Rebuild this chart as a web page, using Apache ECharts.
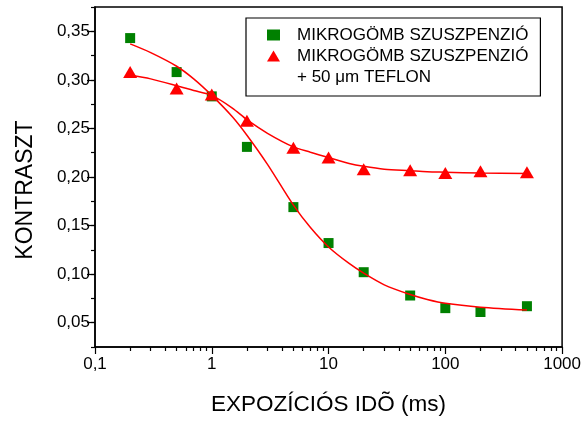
<!DOCTYPE html>
<html>
<head>
<meta charset="utf-8">
<script src="https://cdn.jsdelivr.net/npm/echarts@6/dist/echarts.min.js"></script>
<style>html,body{margin:0;padding:0;background:#fff}#c{width:584px;height:421px}</style>
</head>
<body>
<div id="c"></div>
<script>
// ---- data ----
const timesMs = [0.2, 0.5, 1, 2, 5, 10, 20, 50, 100, 200, 500];
const contrastSuspension = [0.343, 0.308, 0.283, 0.231, 0.169, 0.132, 0.102, 0.078, 0.065, 0.061, 0.067];
const contrastTeflon = [0.308, 0.291, 0.285, 0.258, 0.230, 0.220, 0.208, 0.207, 0.204, 0.206, 0.205];
// fitted curves
const fitTimes = [0.2, 0.3, 0.5, 0.7, 1, 1.5, 2, 3, 5, 7, 10, 15, 20, 30, 50, 70, 100, 200, 500];
const fitSuspension = [0.337, 0.328, 0.314, 0.301, 0.284, 0.262, 0.243, 0.213, 0.171, 0.148, 0.128, 0.111, 0.101, 0.089, 0.079, 0.074, 0.070, 0.066, 0.063];
const fitTeflon = [0.305, 0.301, 0.294, 0.289, 0.284, 0.271, 0.259, 0.245, 0.231, 0.2255, 0.220, 0.214, 0.211, 0.208, 0.2065, 0.2055, 0.205, 0.204, 0.2035];
// tick labels
const xTickLabels = [0.1, 1, 10, 100, 1000];
const xMinorTicks = [0.2,0.3,0.4,0.5,0.6,0.7,0.8,0.9,2,3,4,5,6,7,8,9,20,30,40,50,60,70,80,90,200,300,400,500,600,700,800,900];
const yTickLabels = [0.05, 0.10, 0.15, 0.20, 0.25, 0.30, 0.35];
const seriesNames = ['MIKROGÖMB SZUSZPENZIÓ', 'MIKROGÖMB SZUSZPENZIÓ', '+ 50 μm TEFLON'];

const FONT = 'Liberation Sans, Arial, sans-serif';
const pairs = (xs, ys) => xs.map((x, i) => [x, ys[i]]);

const chart = echarts.init(document.getElementById('c'), null, {renderer: 'canvas'});
chart.setOption({
  animation: false,
  backgroundColor: '#fff',
  grid: {left: 95, right: 21, top: 7, bottom: 68, show: true, borderColor: '#000', borderWidth: 1.5, containLabel: false},
  legend: {
    orient: 'vertical', left: 246, top: 18,
    padding: [7, 12, 9, 21],
    borderColor: '#000', borderWidth: 1.2, borderRadius: 0,
    itemWidth: 13, itemHeight: 11, itemGap: 1,
    textStyle: {fontFamily: FONT, fontSize: 17, color: '#000', lineHeight: 20, padding: [0, 0, 0, 12]},
    selectedMode: false,
    data: [
      {name: 'sq', icon: 'rect', itemStyle: {color: '#008000', opacity: 1}},
      {name: 'tri', icon: 'triangle', itemStyle: {color: '#ff0000', opacity: 1}},
      {name: 'extra', icon: 'rect', itemStyle: {opacity: 0}}
    ],
    formatter: n => n === 'sq' ? seriesNames[0] : (n === 'tri' ? seriesNames[1] : seriesNames[2])
  },
  xAxis: [{
    type: 'log', logBase: 10, min: 0.1, max: 1000,
    axisLine: {show: true, lineStyle: {color: '#000', width: 1.5}},
    axisTick: {show: true, inside: false, length: 7, lineStyle: {color: '#000', width: 1.2}, customValues: xTickLabels},
    axisLabel: {customValues: xTickLabels, color: '#000', fontFamily: FONT, fontSize: 17, margin: 9,
      formatter: v => String(v).replace('.', ',')},
    splitLine: {show: false},
    name: 'EXPOZÍCIÓS IDÕ (ms)', nameLocation: 'middle', nameGap: 46,
    nameTextStyle: {fontFamily: FONT, fontSize: 22.5, color: '#000'}
  }, {
    type: 'log', logBase: 10, min: 0.1, max: 1000, position: 'bottom',
    axisLine: {show: false},
    axisTick: {show: true, length: 4, lineStyle: {color: '#000', width: 1.2}, customValues: xMinorTicks},
    axisLabel: {show: false}, splitLine: {show: false}
  }],
  yAxis: [{
    type: 'value', min: 0.025, max: 0.375,
    axisLine: {show: true, lineStyle: {color: '#000', width: 1.5}},
    axisTick: {show: true, length: 8, lineStyle: {color: '#000', width: 1.2}, customValues: yTickLabels},
    axisLabel: {customValues: yTickLabels, color: '#000', fontFamily: FONT, fontSize: 17, margin: 5,
      formatter: v => v.toFixed(2).replace('.', ',')},
    splitLine: {show: false},
    name: 'KONTRASZT', nameLocation: 'middle', nameGap: 58,
    nameTextStyle: {fontFamily: FONT, fontSize: 23, color: '#000', padding: [0, 26, 0, 0]}
  }, {
    type: 'value', min: 0.025, max: 0.375, interval: 0.025, position: 'left',
    axisLine: {show: false},
    axisTick: {show: true, length: 4, lineStyle: {color: '#000', width: 1.2}},
    axisLabel: {show: false}, splitLine: {show: false}
  }],
  series: [
    {name: 'sq', type: 'scatter', symbol: 'rect', symbolSize: 10, itemStyle: {color: '#008000', opacity: 1}, z: 2,
      data: pairs(timesMs, contrastSuspension)},
    {name: 'tri', type: 'scatter', symbol: 'triangle', symbolSize: [14, 12], itemStyle: {color: '#ff0000', opacity: 1}, z: 3,
      data: pairs(timesMs, contrastTeflon)},
    {name: 'extra', type: 'scatter', data: [], itemStyle: {color: '#fff'}},
    {type: 'line', smooth: 0.3, symbol: 'none', z: 4, lineStyle: {color: '#ff0000', width: 1.5},
      data: pairs(fitTimes, fitSuspension)},
    {type: 'line', smooth: 0.3, symbol: 'none', z: 4, lineStyle: {color: '#ff0000', width: 1.5},
      data: pairs(fitTimes, fitTeflon)}
  ]
});
</script>
</body>
</html>
